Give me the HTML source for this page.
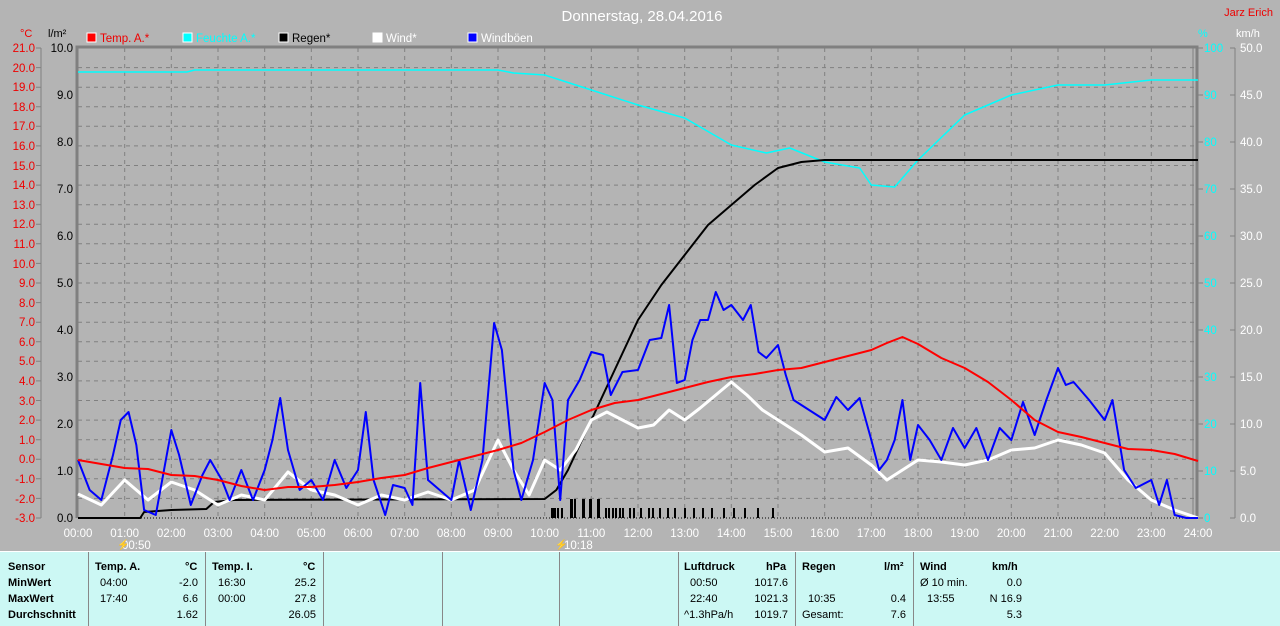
<!DOCTYPE html>
<html><head><meta charset="utf-8"><style>
html,body{margin:0;padding:0;background:#b4b4b4;width:1280px;height:625px;overflow:hidden;font-family:"Liberation Sans",sans-serif}
.p{position:absolute;top:551px;height:74px;left:0;width:1280px;background:#ccf8f4;border-top:1px solid #fff}
.c{position:absolute;top:0;height:74px;border-left:1px solid #888}
.t{position:absolute;font-size:11px;font-weight:bold;color:#000}
.n{position:absolute;font-size:11px;color:#000}
</style></head><body>
<svg width="1280" height="551" style="position:absolute;left:0;top:0" font-family="Liberation Sans, sans-serif" font-size="11.5">
<text x="642" y="21" fill="#fff" font-size="15" text-anchor="middle">Donnerstag, 28.04.2016</text>
<text x="1273" y="16" fill="#e00" font-size="11" text-anchor="end">Jarz Erich</text>
<text x="20" y="37" fill="#e00" font-size="11">°C</text>
<text x="48" y="37" fill="#000" font-size="11">l/m²</text>
<text x="1198" y="37" fill="#0ff" font-size="11">%</text>
<text x="1236" y="37" fill="#fff" font-size="11">km/h</text>
<rect x="87" y="33" width="9" height="9" fill="#f00" stroke="#fff"/><text x="100" y="42" fill="#e00">Temp. A.*</text>
<rect x="183" y="33" width="9" height="9" fill="#0ff" stroke="#fff"/><text x="196" y="42" fill="#0ff">Feuchte A.*</text>
<rect x="279" y="33" width="9" height="9" fill="#000" stroke="#fff"/><text x="292" y="42" fill="#000">Regen*</text>
<rect x="373" y="33" width="9" height="9" fill="#fff" stroke="#fff"/><text x="386" y="42" fill="#fff">Wind*</text>
<rect x="468" y="33" width="9" height="9" fill="#00f" stroke="#fff"/><text x="481" y="42" fill="#fff">Windböen</text>
<g stroke="#808080" stroke-dasharray="4,4" stroke-width="1">
<path d="M124.7 48V518M171.3 48V518M218 48V518M264.7 48V518M311.3 48V518M358 48V518M404.7 48V518M451.3 48V518M498 48V518M544.7 48V518M591.3 48V518M638 48V518M684.7 48V518M731.3 48V518M778 48V518M824.7 48V518M871.3 48V518M918 48V518M964.7 48V518M1011.3 48V518M1058 48V518M1104.7 48V518M1151.3 48V518"/>
<path d="M78 67.6H1196M78 87.2H1196M78 106.8H1196M78 126.3H1196M78 145.9H1196M78 165.5H1196M78 185.1H1196M78 204.7H1196M78 224.3H1196M78 243.8H1196M78 263.4H1196M78 283H1196M78 302.6H1196M78 322.2H1196M78 341.8H1196M78 361.3H1196M78 380.9H1196M78 400.5H1196M78 420.1H1196M78 439.7H1196M78 459.3H1196M78 478.8H1196M78 498.4H1196"/>
</g>
<path d="M78 518H1196" stroke="#000" stroke-dasharray="1,2"/>
<path d="M77 518V47H1197V518" fill="none" stroke="#808080" stroke-width="3"/>
<path d="M1193 48V518" stroke="#808080"/>
<path d="M41 48V518M1235 48V518" stroke="#808080"/>
<g stroke="#808080">
<path d="M36 48h5M36 67.6h5M36 87.2h5M36 106.8h5M36 126.3h5M36 145.9h5M36 165.5h5M36 185.1h5M36 204.7h5M36 224.3h5M36 243.8h5M36 263.4h5M36 283h5M36 302.6h5M36 322.2h5M36 341.8h5M36 361.3h5M36 380.9h5M36 400.5h5M36 420.1h5M36 439.7h5M36 459.3h5M36 478.8h5M36 498.4h5M36 518h5"/>
<path d="M1230 48h5M1230 95h5M1230 142h5M1230 189h5M1230 236h5M1230 283h5M1230 330h5M1230 377h5M1230 424h5M1230 471h5M1230 518h5M1197 48h6M1197 95h6M1197 142h6M1197 189h6M1197 236h6M1197 283h6M1197 330h6M1197 377h6M1197 424h6M1197 471h6M1197 518h6"/>
</g>
<g fill="#e00" text-anchor="end">
<text x="35" y="52">21.0</text><text x="35" y="72">20.0</text><text x="35" y="91">19.0</text><text x="35" y="111">18.0</text><text x="35" y="130">17.0</text><text x="35" y="150">16.0</text><text x="35" y="170">15.0</text><text x="35" y="189">14.0</text><text x="35" y="209">13.0</text><text x="35" y="228">12.0</text><text x="35" y="248">11.0</text><text x="35" y="268">10.0</text><text x="35" y="287">9.0</text><text x="35" y="307">8.0</text><text x="35" y="326">7.0</text><text x="35" y="346">6.0</text><text x="35" y="365">5.0</text><text x="35" y="385">4.0</text><text x="35" y="405">3.0</text><text x="35" y="424">2.0</text><text x="35" y="444">1.0</text><text x="35" y="463">0.0</text><text x="35" y="483">-1.0</text><text x="35" y="503">-2.0</text><text x="35" y="522">-3.0</text>
</g>
<g fill="#000" text-anchor="end">
<text x="73" y="52">10.0</text><text x="73" y="99">9.0</text><text x="73" y="146">8.0</text><text x="73" y="193">7.0</text><text x="73" y="240">6.0</text><text x="73" y="287">5.0</text><text x="73" y="334">4.0</text><text x="73" y="381">3.0</text><text x="73" y="428">2.0</text><text x="73" y="475">1.0</text><text x="73" y="522">0.0</text>
</g>
<g fill="#0ff"><text x="1204" y="52">100</text><text x="1204" y="99">90</text><text x="1204" y="146">80</text><text x="1204" y="193">70</text><text x="1204" y="240">60</text><text x="1204" y="287">50</text><text x="1204" y="334">40</text><text x="1204" y="381">30</text><text x="1204" y="428">20</text><text x="1204" y="475">10</text><text x="1204" y="522">0</text></g>
<g fill="#fff"><text x="1240" y="52">50.0</text><text x="1240" y="99">45.0</text><text x="1240" y="146">40.0</text><text x="1240" y="193">35.0</text><text x="1240" y="240">30.0</text><text x="1240" y="287">25.0</text><text x="1240" y="334">20.0</text><text x="1240" y="381">15.0</text><text x="1240" y="428">10.0</text><text x="1240" y="475">5.0</text><text x="1240" y="522">0.0</text></g>
<g fill="#fff" text-anchor="middle">
<text x="78" y="537">00:00</text><text x="124.7" y="537">01:00</text><text x="171.3" y="537">02:00</text><text x="218" y="537">03:00</text><text x="264.7" y="537">04:00</text><text x="311.3" y="537">05:00</text><text x="358" y="537">06:00</text><text x="404.7" y="537">07:00</text><text x="451.3" y="537">08:00</text><text x="498" y="537">09:00</text><text x="544.7" y="537">10:00</text><text x="591.3" y="537">11:00</text><text x="638" y="537">12:00</text><text x="684.7" y="537">13:00</text><text x="731.3" y="537">14:00</text><text x="778" y="537">15:00</text><text x="824.7" y="537">16:00</text><text x="871.3" y="537">17:00</text><text x="918" y="537">18:00</text><text x="964.7" y="537">19:00</text><text x="1011.3" y="537">20:00</text><text x="1058" y="537">21:00</text><text x="1104.7" y="537">22:00</text><text x="1151.3" y="537">23:00</text><text x="1198" y="537">24:00</text>
</g>
<text x="122" y="549" fill="#fff">00:50</text><text x="117" y="548" fill="#ff0" font-size="10">⚡</text>
<text x="564" y="549" fill="#fff">10:18</text><text x="555" y="548" fill="#ff0" font-size="10">⚡</text>
<g fill="#000">
<rect x="551" y="508" width="3" height="10"/><rect x="554" y="508" width="2" height="10"/><rect x="557" y="508" width="2" height="10"/><rect x="561" y="508" width="2" height="10"/>
<rect x="570" y="499" width="3" height="19"/><rect x="574" y="499" width="2" height="19"/><rect x="582" y="499" width="3" height="19"/><rect x="589" y="499" width="3" height="19"/><rect x="597" y="499" width="3" height="19"/>
<rect x="605" y="508" width="2" height="10"/><rect x="608" y="508" width="2" height="10"/><rect x="612" y="508" width="2" height="10"/><rect x="615" y="508" width="2" height="10"/><rect x="619" y="508" width="2" height="10"/><rect x="622" y="508" width="2" height="10"/><rect x="629" y="508" width="2" height="10"/><rect x="633" y="508" width="2" height="10"/><rect x="640" y="508" width="2" height="10"/><rect x="648" y="508" width="2" height="10"/><rect x="652" y="508" width="2" height="10"/><rect x="659" y="508" width="2" height="10"/><rect x="667" y="508" width="2" height="10"/><rect x="674" y="508" width="2" height="10"/><rect x="684" y="508" width="2" height="10"/><rect x="693" y="508" width="2" height="10"/><rect x="702" y="508" width="2" height="10"/><rect x="711" y="508" width="2" height="10"/><rect x="723" y="508" width="2" height="10"/><rect x="733" y="508" width="2" height="10"/><rect x="744" y="508" width="2" height="10"/><rect x="757" y="508" width="2" height="10"/><rect x="772" y="508" width="2" height="10"/>
</g>
<g transform="translate(78,0) scale(0.77778,1)" fill="none" stroke-linejoin="round">
<polyline vector-effect="non-scaling-stroke" stroke="#0ff" stroke-width="1.5" points="0,72 140,72 150,70 540,70 560,73 600,75 660,90 720,105 780,118 840,145 885,153 915,148 960,162 1005,168 1020,185 1050,187 1080,160 1140,115 1200,95 1260,85 1320,85 1380,80 1440,80"/>
<polyline vector-effect="non-scaling-stroke" stroke="#000" stroke-width="2" points="0,518 80,518 85,512 120,510 165,509 175,502 200,500 600,499 615,490 630,470 660,420 690,370 720,320 750,285 780,255 810,225 840,205 870,185 900,168 930,162 960,160 1440,160"/>
<polyline vector-effect="non-scaling-stroke" stroke="#fff" stroke-width="3" points="0,494 30,505 60,480 90,500 120,482 150,490 180,505 210,495 240,500 270,472 300,490 330,495 360,505 390,495 420,500 450,492 480,500 510,490 540,440 560,470 580,495 600,460 620,470 640,450 660,420 680,412 700,420 720,428 740,425 760,410 780,420 800,408 820,395 840,382 860,395 880,410 900,420 930,435 960,452 990,448 1020,465 1040,480 1060,470 1080,460 1110,462 1140,465 1170,460 1200,450 1230,448 1260,440 1290,445 1320,453 1350,480 1380,500 1410,510 1440,518"/>
<polyline vector-effect="non-scaling-stroke" stroke="#00f" stroke-width="2" points="0,460 15,490 30,500 45,455 55,420 65,412 75,445 85,510 100,515 120,430 130,455 145,505 160,475 170,460 185,480 195,500 210,470 225,500 240,470 250,440 260,398 270,450 285,490 300,480 315,500 330,460 345,488 360,470 370,412 380,480 395,515 405,485 420,488 430,505 440,383 450,480 465,490 480,500 490,460 505,510 520,460 535,323 545,350 560,470 570,500 585,460 600,383 610,400 620,500 630,400 645,380 660,352 675,355 685,395 700,372 720,370 735,340 750,338 760,305 770,383 780,380 790,340 800,320 810,320 820,292 830,310 840,305 855,320 865,305 875,352 885,358 900,345 910,375 920,400 940,410 960,420 975,397 990,410 1005,398 1020,440 1030,470 1040,460 1050,440 1060,400 1070,460 1080,425 1095,440 1110,460 1125,428 1140,448 1155,428 1170,460 1185,428 1200,440 1215,402 1230,435 1245,400 1260,368 1270,385 1280,382 1300,400 1320,420 1330,400 1345,470 1360,488 1380,480 1390,505 1400,480 1410,515 1425,518 1440,518"/>
<polyline vector-effect="non-scaling-stroke" stroke="#f00" stroke-width="2" points="0,460 30,464 60,468 90,469 120,475 150,476 180,480 210,486 240,490 270,487 300,487 330,485 360,482 390,478 420,475 450,468 480,462 510,456 540,450 570,443 600,432 630,420 660,410 690,403 720,400 750,394 780,388 810,382 840,377 870,374 900,370 930,368 960,362 990,356 1020,350 1040,343 1060,337 1080,344 1110,358 1140,368 1170,382 1200,400 1230,420 1260,432 1290,437 1320,443 1350,449 1380,450 1410,454 1440,461"/>
</g>
</svg>
<div class="p">
<div class="c" style="left:88px"></div><div class="c" style="left:205px"></div><div class="c" style="left:323px"></div><div class="c" style="left:442px"></div><div class="c" style="left:559px"></div><div class="c" style="left:678px"></div><div class="c" style="left:795px"></div><div class="c" style="left:913px"></div>
<div class="t" style="left:8px;top:9px">Sensor</div><div class="t" style="left:8px;top:25px">MinWert</div><div class="t" style="left:8px;top:41px">MaxWert</div><div class="t" style="left:8px;top:57px">Durchschnitt</div>
<div class="t" style="left:95px;top:9px">Temp. A.</div><div class="t" style="left:185px;top:9px">°C</div>
<div class="n" style="left:100px;top:25px">04:00</div><div class="n" style="left:100px;top:41px">17:40</div>
<div class="n" style="right:1082px;top:25px">-2.0</div><div class="n" style="right:1082px;top:41px">6.6</div><div class="n" style="right:1082px;top:57px">1.62</div>
<div class="t" style="left:212px;top:9px">Temp. I.</div><div class="t" style="left:303px;top:9px">°C</div>
<div class="n" style="left:218px;top:25px">16:30</div><div class="n" style="left:218px;top:41px">00:00</div>
<div class="n" style="right:964px;top:25px">25.2</div><div class="n" style="right:964px;top:41px">27.8</div><div class="n" style="right:964px;top:57px">26.05</div>
<div class="t" style="left:684px;top:9px">Luftdruck</div><div class="t" style="left:766px;top:9px">hPa</div>
<div class="n" style="left:690px;top:25px">00:50</div><div class="n" style="left:690px;top:41px">22:40</div><div class="n" style="left:684px;top:57px">^1.3hPa/h</div>
<div class="n" style="right:492px;top:25px">1017.6</div><div class="n" style="right:492px;top:41px">1021.3</div><div class="n" style="right:492px;top:57px">1019.7</div>
<div class="t" style="left:802px;top:9px">Regen</div><div class="t" style="left:884px;top:9px">l/m²</div>
<div class="n" style="left:808px;top:41px">10:35</div><div class="n" style="left:802px;top:57px">Gesamt:</div>
<div class="n" style="right:374px;top:41px">0.4</div><div class="n" style="right:374px;top:57px">7.6</div>
<div class="t" style="left:920px;top:9px">Wind</div><div class="t" style="left:992px;top:9px">km/h</div>
<div class="n" style="left:920px;top:25px">Ø 10 min.</div><div class="n" style="left:927px;top:41px">13:55</div>
<div class="n" style="right:258px;top:25px">0.0</div><div class="n" style="right:258px;top:41px">N 16.9</div><div class="n" style="right:258px;top:57px">5.3</div>
</div>
</body></html>
